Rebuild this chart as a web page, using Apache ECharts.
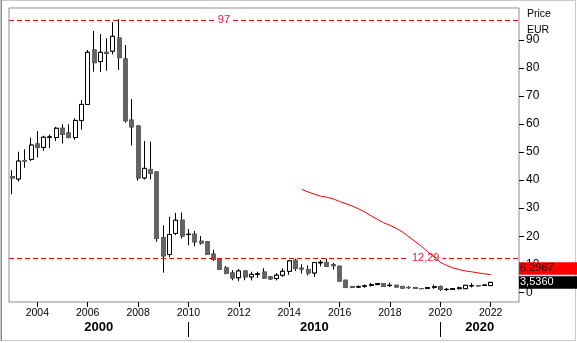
<!DOCTYPE html>
<html><head><meta charset="utf-8">
<script src="https://cdn.jsdelivr.net/npm/echarts@6/dist/echarts.min.js"></script>
<style>html,body{margin:0;padding:0;background:#fff}#c{width:577px;height:343px}</style>
</head><body><div id="c"></div>
<script>
// quarterly categories
const categories = [
 '2003Q1','2003Q2','2003Q3','2003Q4','2004Q1','2004Q2','2004Q3','2004Q4',
 '2005Q1','2005Q2','2005Q3','2005Q4','2006Q1','2006Q2','2006Q3','2006Q4',
 '2007Q1','2007Q2','2007Q3','2007Q4','2008Q1','2008Q2','2008Q3','2008Q4',
 '2009Q1','2009Q2','2009Q3','2009Q4','2010Q1','2010Q2','2010Q3','2010Q4',
 '2011Q1','2011Q2','2011Q3','2011Q4','2012Q1','2012Q2','2012Q3','2012Q4',
 '2013Q1','2013Q2','2013Q3','2013Q4','2014Q1','2014Q2','2014Q3','2014Q4',
 '2015Q1','2015Q2','2015Q3','2015Q4','2016Q1','2016Q2','2016Q3','2016Q4',
 '2017Q1','2017Q2','2017Q3','2017Q4','2018Q1','2018Q2','2018Q3','2018Q4',
 '2019Q1','2019Q2','2019Q3','2019Q4','2020Q1','2020Q2','2020Q3','2020Q4',
 '2021Q1','2021Q2','2021Q3','2021Q4','2022Q1','2022Q2','2022Q3','2022Q4',
 '2023Q1'
];
const openV = [41.3,40.4,47.0,47.4,52.9,51.7,55.3,55.2,58.5,56.8,55.2,61.3,67.0,86.4,82.3,85.6,86.0,90.7,83.2,61.4,
 59.3,40.8,43.8,42.9,19.5,13.5,21.0,25.7,20.6,20.7,18.2,18.0,13.6,12.0,8.7,6.9,5.2,7.6,5.5,6.4,
 7.2,5.5,4.9,6.1,7.5,11.4,8.6,8.1,6.9,10.5,10.6,9.8,9.3,4.3,2.0,1.9,2.2,2.5,2.75,3.1,
 2.4,2.5,2.1,1.75,1.7,1.35,1.4,1.85,2.1,1.0,1.0,1.3,1.3,2.3,2.4,2.5,2.4];
const closeV = [40.8,46.8,46.8,52.5,51.7,55.3,55.4,58.5,56.3,55.2,61.3,67.0,85.6,81.9,85.6,85.2,91.3,83.7,61.2,59.0,
 40.8,44.2,42.4,19.2,13.0,20.6,25.7,20.1,20.7,18.0,17.6,13.5,11.7,8.2,6.7,5.1,7.6,5.5,6.4,6.6,
 5.1,4.8,6.1,7.5,11.2,8.5,8.3,6.9,10.6,10.7,9.3,9.5,4.0,1.7,1.8,2.0,2.3,2.7,3.1,2.1,
 2.5,1.9,1.5,1.65,1.4,1.3,1.7,1.95,1.0,1.05,1.3,1.6,2.5,2.4,2.3,2.55,3.536];
const lowV = [35.0,39.6,44.4,46.9,48.1,50.5,51.5,54.0,53.1,54.9,54.5,58.1,66.8,78.7,78.7,79.0,84.9,79.3,60.5,52.3,
 39.8,40.3,40.3,18.0,7.0,12.6,20.4,19.2,16.8,16.4,17.0,13.3,11.2,8.0,6.4,4.3,4.0,4.3,4.3,5.2,
 4.8,4.4,4.3,5.5,6.3,7.6,6.7,6.0,5.5,9.3,9.0,8.1,4.0,1.6,1.5,1.6,1.7,2.1,2.6,2.0,
 1.9,1.8,1.4,1.2,1.3,1.1,1.3,1.2,0.5,0.5,0.9,1.1,1.2,1.8,2.1,2.3,2.3];
const highV = [43.6,50.1,51.0,55.1,57.5,55.8,56.2,59.0,60.0,59.9,62.0,68.6,86.4,93.2,92.1,90.6,96.3,97.4,88.2,68.9,
 59.6,53.9,53.7,43.0,23.9,26.9,28.3,28.5,22.5,21.9,20.1,18.2,15.2,12.2,9.4,7.9,8.2,7.7,7.3,7.3,
 8.6,5.8,6.7,8.5,11.4,12.0,10.0,9.6,10.6,11.4,12.0,10.5,9.4,4.4,2.2,2.4,2.7,3.2,3.3,3.2,
 3.4,2.6,2.2,2.2,1.8,1.5,1.8,2.7,2.4,1.4,1.4,2.0,2.6,3.2,2.6,2.7,3.6];
// red average line, starting at 2014Q3
const maStart = '2014Q3';
const maValues = [36.7,35.8,35.0,34.3,33.9,33.3,32.4,31.6,30.8,29.8,28.6,27.3,26.0,24.8,23.9,22.8,
 21.5,19.8,18.1,16.4,14.5,12.6,10.7,9.6,8.7,8.1,7.6,7.3,6.9,6.6,6.2967];
const yTickValues = [0,10,20,30,40,50,60,70,80,90];
const xYearLabels = ['2004','2006','2008','2010','2012','2014','2016','2018','2020','2022'];
const decadeLabels = ['2000','2010','2020'];
const decadeBreaks = ['2010Q1','2020Q1'];
const refLevels = [97, 12.29];
const refLabels = ['97','12,29'];
const refLabelAt = ['2011Q2','2019Q3'];
const lastCloseText = '3,5360';
const maLastText = '6,2967';

const FONT = '"Liberation Sans", Arial, sans-serif';
const G = {left: 9, top: 8, width: 510, height: 294};

const candles = openV.map((o,i)=>[o, closeV[i], lowV[i], highV[i]]);
// overlay: down candles as bodies only (gray, no black wick outline); up candles unchanged
const overlay = openV.map((o,i)=> closeV[i] < o ? [o, closeV[i], closeV[i], o] : [o, closeV[i], lowV[i], highV[i]]);
const ms = categories.indexOf(maStart);
const maData = categories.map((c,i)=> (i>=ms && i-ms < maValues.length) ? maValues[i-ms] : null);

const brkIdx = decadeBreaks.map(b=>categories.indexOf(b));
const edges = [-0.5, ...brkIdx, categories.length-0.5];
const decadeCenters = decadeLabels.map((d,i)=> (edges[i]+edges[i+1])/2);

const isYearLabel = (idx, val) => val.endsWith('Q1') && xYearLabels.includes(val.slice(0,4));

const chart = echarts.init(document.getElementById('c'), null, {renderer:'canvas'});
const option = {
  animation: false,
  backgroundColor: '#fff',
  grid: Object.assign({show:true, borderColor:'#8a8a9a', borderWidth:1, backgroundColor:'#fff'}, G),
  xAxis: [{
    type:'category', data: categories, boundaryGap: true,
    axisLine:{show:false, onZero:false},
    axisTick:{show:true, alignWithLabel:true, interval: isYearLabel, length:5, lineStyle:{color:'#000'}},
    axisLabel:{interval: isYearLabel, formatter: v=>v.slice(0,4), color:'#000', fontSize:10.5, fontFamily:FONT, margin:6},
    splitLine:{show:false}
  },{
    type:'value', min:-0.5, max:categories.length-0.5, position:'bottom', offset:20,
    axisLine:{show:false, onZero:false}, splitLine:{show:false},
    axisTick:{show:true, customValues: brkIdx, length:15, lineStyle:{color:'#000', width:1}},
    axisLabel:{customValues: decadeCenters, formatter: v=>decadeLabels[decadeCenters.indexOf(v)],
      color:'#000', fontSize:13, fontWeight:'bold', fontFamily:FONT, margin:-1}
  }],
  yAxis: {
    type:'value', position:'right', min:-3.46, max:101.4, scale:false,
    axisLine:{show:false, onZero:false}, splitLine:{show:false},
    axisTick:{show:true, customValues: yTickValues, length:5, lineStyle:{color:'#000'}},
    axisLabel:{customValues: yTickValues, color:'#000', fontSize:12, fontFamily:FONT, margin:7}
  },
  series: [{
    type:'candlestick', name:'wicks', data: candles, barWidth: 4.5,
    itemStyle:{color:'#fff', color0:'#646464', borderColor:'#000', borderColor0:'#000', borderWidth:1},
    markLine:{silent:true, symbol:['none','none'], label:{show:false},
      lineStyle:{color:'#ff0000', type:[5,3], width:1},
      data: refLevels.map(v=>({yAxis:v}))},
    markPoint:{silent:true, symbol:'rect', symbolSize:1, itemStyle:{color:'rgba(0,0,0,0)'},
      label:{show:true, position:'inside', formatter:'{b}', color:'#f01a3a', fontSize:11, fontFamily:FONT,
        backgroundColor:'#fff', padding:[1,3]},
      data: refLevels.map((v,i)=>({name:refLabels[i], coord:[refLabelAt[i], v],
        label:{offset:[i===0?4:-2,0]}}))}
  },{
    type:'candlestick', name:'bodies', data: overlay, barWidth: 4.5,
    itemStyle:{color:'#fff', color0:'#646464', borderColor:'#000', borderColor0:'#646464', borderWidth:1}
  },{
    type:'line', name:'avg', data: maData, showSymbol:false, symbol:'none', connectNulls:false,
    lineStyle:{color:'#ff0000', width:1}, z:5
  }],
  graphic: []
};
chart.setOption(option);

// value boxes on the right axis, placed through the axis scale
const yBlack = chart.convertToPixel({yAxisIndex:0}, closeV[closeV.length-1]);
let yRed = chart.convertToPixel({yAxisIndex:0}, maValues[maValues.length-1]);
const BH = 12.5;
if (yRed > yBlack - BH - 1.5) yRed = yBlack - BH - 1.5;
const rx = G.left + G.width;
chart.setOption({graphic: [
  {type:'rect', z:100, shape:{x:0.5, y:0.5, width:575, height:340}, style:{fill:'none', stroke:'#c8c8c8', lineWidth:1}},
  {type:'line', z:100, shape:{x1:1.5, y1:0, x2:1.5, y2:341}, style:{stroke:'#8a8a8a', lineWidth:1}},
  {type:'text', z:100, left: rx+8, top: 9, style:{text:'Price', fill:'#000', font:'10.5px '+FONT}},
  {type:'text', z:100, left: rx+8, top: 25, style:{text:'EUR', fill:'#000', font:'10.5px '+FONT}},
  {type:'rect', z:100, shape:{x:rx, y:yRed-BH/2, width:577-rx, height:BH}, style:{fill:'#ff0000'}},
  {type:'text', z:101, x: rx+1, y: yRed, style:{text:maLastText, fill:'#200000', font:'11px '+FONT, verticalAlign:'middle'}},
  {type:'rect', z:100, shape:{x:rx, y:yBlack-BH/2, width:577-rx, height:BH}, style:{fill:'#000'}},
  {type:'text', z:101, x: rx+1, y: yBlack, style:{text:lastCloseText, fill:'#fff', font:'11px '+FONT, verticalAlign:'middle'}}
]});
</script></body></html>
